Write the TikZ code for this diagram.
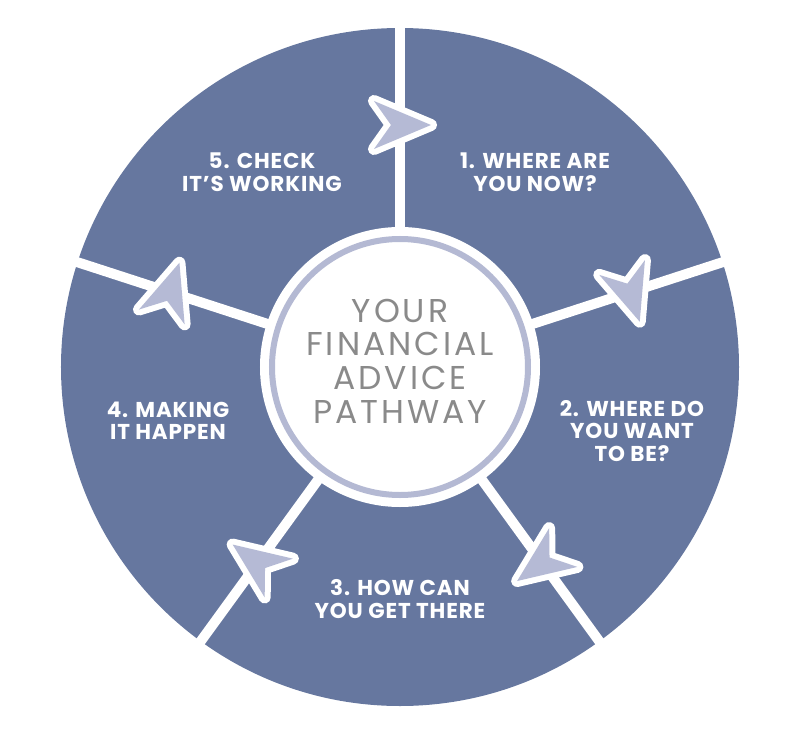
\documentclass[tikz,border=0pt]{standalone}
\usepackage{fontspec}
\setmainfont{Poppins}
\definecolor{wheelblue}{HTML}{66779F}
\definecolor{pointerfill}{HTML}{B5BAD5}
\definecolor{ringlilac}{HTML}{B4B9D3}
\definecolor{titlegrey}{HTML}{8A8A8A}
\tikzset{
  divider/.style={white, line width=10pt},
  stagelabel/.style={text=white, align=center, inner sep=0pt,
    font=\fontsize{21.5}{22.5}\selectfont\bfseries\addfontfeature{LetterSpace=4}},
  titletext/.style={text=titlegrey, align=center, inner sep=0pt,
    font=\fontsize{33}{33.7}\selectfont\addfontfeature{LetterSpace=9}},
  pointer/.pic={
    \draw[white, line width=12pt, line join=round] (31,0) -- (-26,24) -- (-9,0) -- (-26,-24) -- cycle;
    \fill[pointerfill] (31,0) -- (-26,24) -- (-9,0) -- (-26,-24) -- cycle;
  }
}
\begin{document}
\begin{tikzpicture}[x=1pt, y=1pt]
\useasboundingbox (-400,-372) rectangle (400,367);
\coordinate (O) at (0,0);
\fill[wheelblue] (O) circle[radius=339];
\coordinate (R_1) at (90:345);
\coordinate (R_2) at (18:345);
\coordinate (R_3) at (-54:345);
\coordinate (R_4) at (-126:345);
\coordinate (R_5) at (162:345);
\draw[divider] (O) -- (R_1);
\draw[divider] (O) -- (R_2);
\draw[divider] (O) -- (R_3);
\draw[divider] (O) -- (R_4);
\draw[divider] (O) -- (R_5);
\fill[white] (O) circle[radius=140];
\draw[ringlilac, line width=6pt] (O) circle[radius=128];
\node[titletext] (title) at (0,6) {YOUR\\FINANCIAL\\ADVICE\\PATHWAY};
\pic[rotate=0] at (90:242) {pointer};
\pic[rotate=-72] at (18:242) {pointer};
\pic[rotate=-144] at (-54:242) {pointer};
\pic[rotate=144] at (-126:242) {pointer};
\pic[rotate=72] at (162:242) {pointer};
\node[stagelabel] (L_1) at (135,195) {1. WHERE ARE\\YOU NOW?};
\node[stagelabel] (L_2) at (232,-64) {2. WHERE DO\\YOU WANT\\TO BE?};
\node[stagelabel] (L_3) at (0,-232) {3. HOW CAN\\YOU GET THERE};
\node[stagelabel] (L_4) at (-232,-54) {4. MAKING\\IT HAPPEN};
\node[stagelabel] (L_5) at (-138,195) {5. CHECK\\IT’S WORKING};
\end{tikzpicture}
\end{document}
